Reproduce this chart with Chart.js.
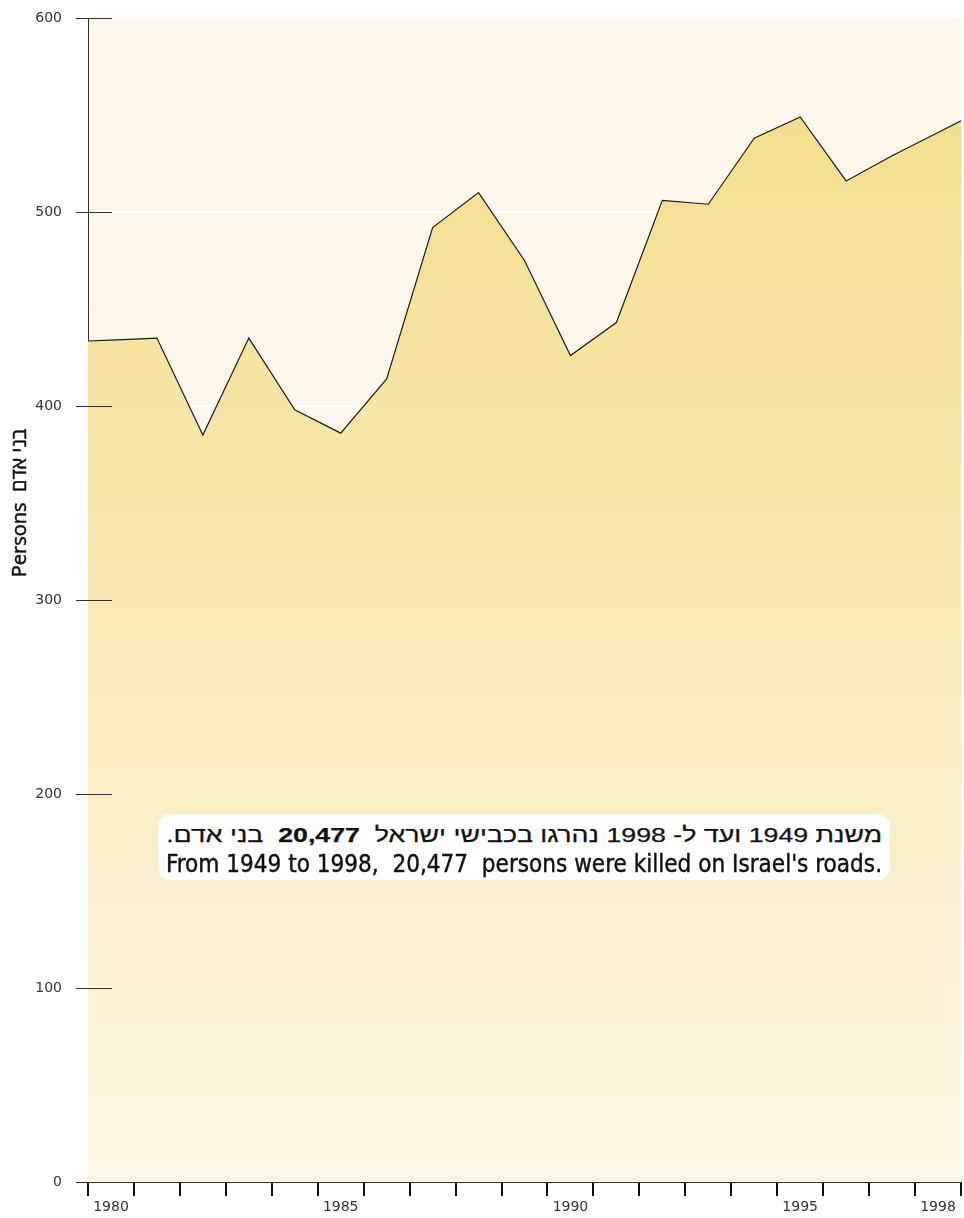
<!DOCTYPE html>
<html>
<head>
<meta charset="utf-8">
<script src="https://cdn.jsdelivr.net/npm/chart.js@4.4.1/dist/chart.umd.min.js"></script>
<style>
  html, body { margin: 0; padding: 0; background: #ffffff; }
  #wrap { position: relative; width: 964px; height: 1218px; overflow: hidden; }
  canvas { display: block; }
  #note {
    position: absolute; left: 158px; top: 814px; width: 732px; height: 66px;
    background: #ffffff; border-radius: 13px; box-sizing: border-box;
    padding: 0 8px; color: #111;
  }
  #note .line { position: absolute; left: 8px; right: 8px; white-space: nowrap; }
  #note .he {
    top: 8px; direction: rtl; text-align: right;
    font-family: "Liberation Sans", Arial, sans-serif; font-size: 21px; line-height: 26px;
    -webkit-text-stroke: 0.25px #111;
  }
  #note .he b { font-weight: bold; }
  #note .en {
    top: 36px; text-align: left;
    font-family: "Liberation Sans Narrow", "DejaVu Sans Condensed", "Roboto Condensed", "Liberation Sans", sans-serif;
    font-stretch: condensed; font-size: 24px; line-height: 28px;
    -webkit-text-stroke: 0.4px #111;
  }
  #note .fit { display: inline-block; transform-origin: left center; }
  #note .he .fit { transform-origin: right center; }
</style>
</head>
<body>
<div id="wrap">
  <canvas id="c" width="964" height="1218"></canvas>
  <div id="note">
    <div class="line he"><span class="fit" dir="rtl">משנת 1949 ועד ל- 1998 נהרגו בכבישי ישראל&nbsp; <b>20,477</b>&nbsp; בני אדם.</span></div>
    <div class="line en"><span class="fit">From 1949 to 1998,&nbsp; 20,477&nbsp; persons were killed on Israel's roads.</span></div>
  </div>
</div>
<script>
// ---- data ----
const years = ['1980','1981','1982','1983','1984','1985','1986','1987','1988','1989',
               '1990','1991','1992','1993','1994','1995','1996','1997','1998'];
const killed = [434, 435, 385, 435, 398, 386, 414, 492, 510, 475,
                426, 443, 506, 504, 538, 549, 516, 529, 541];
const labeledYears = ['1980','1985','1990','1995','1998'];
const yTickValues = [0, 100, 200, 300, 400, 500, 600];
const yTitle = 'Persons  בני אדם';

// area is drawn at category centres and carried on to the frame edges
const n = killed.length;
const areaPoints = [{ x: 0, y: killed[0] - (killed[1] - killed[0]) / 2 }]
  .concat(killed.map((v, i) => ({ x: i + 0.5, y: v })))
  .concat([{ x: n, y: killed[n - 1] + (killed[n - 1] - killed[n - 2]) / 2 }]);

const plotBg = {
  id: 'plotBg',
  beforeDraw(chart) {
    const { ctx, chartArea: a } = chart;
    ctx.save();
    ctx.fillStyle = '#fdf8eb';
    ctx.fillRect(a.left, a.top, a.right - a.left, a.bottom - a.top);
    ctx.restore();
  }
};

const yTickMarks = {
  id: 'yTickMarks',
  afterDatasetsDraw(chart) {
    const { ctx, chartArea: a } = chart;
    const ys = chart.scales.y;
    ctx.save();
    ctx.strokeStyle = '#333';
    ctx.lineWidth = 1;
    ys.ticks.forEach(t => {
      const py = Math.round(ys.getPixelForValue(t.value)) + 0.5;
      ctx.beginPath();
      ctx.moveTo(a.left - 12, py);
      ctx.lineTo(a.left + 24, py);
      ctx.stroke();
    });
    ctx.restore();
  }
};

const sideTitle = {
  id: 'sideTitle',
  afterDraw(chart) {
    const { ctx } = chart;
    const ys = chart.scales.y;
    ctx.save();
    ctx.translate(20, ys.getPixelForValue(350));
    ctx.rotate(-Math.PI / 2);
    ctx.textAlign = 'center';
    ctx.textBaseline = 'middle';
    ctx.fillStyle = '#111';
    ctx.strokeStyle = '#111';
    ctx.lineWidth = 0.5;
    ctx.font = '20px "Open Sans", "Noto Sans", sans-serif';
    ctx.fillText(yTitle, 0, 0);
    ctx.strokeText(yTitle, 0, 0);
    ctx.restore();
  }
};

const ctx = document.getElementById('c').getContext('2d');
new Chart(ctx, {
  type: 'line',
  data: {
    labels: years,
    datasets: [{
      data: areaPoints,
      xAxisID: 'xd',
      yAxisID: 'y',
      borderColor: '#1c1c1c',
      borderWidth: 1.2,
      pointRadius: 0,
      tension: 0,
      fill: 'origin',
      backgroundColor(c) {
        const a = c.chart.chartArea;
        if (!a) return '#f7e6a8';
        const g = c.chart.ctx.createLinearGradient(0, a.top, 0, a.bottom);
        g.addColorStop(0, '#f3db85');
        g.addColorStop(0.5, '#f8e9b4');
        g.addColorStop(1, '#fdf7e7');
        return g;
      }
    }]
  },
  options: {
    responsive: false,
    animation: false,
    devicePixelRatio: 1,
    layout: { padding: { top: 18, right: 3, left: 0, bottom: 0 } },
    plugins: { legend: { display: false }, tooltip: { enabled: false } },
    scales: {
      x: {
        type: 'category',
        position: 'bottom',
        offset: true,
        grid: {
          offset: true, drawOnChartArea: false, drawTicks: true,
          tickLength: 14, tickColor: '#111', tickWidth: 2, lineWidth: 2
        },
        border: { display: true, color: '#333', width: 1 },
        ticks: {
          autoSkip: false, maxRotation: 0, minRotation: 0, padding: 3,
          color: '#333',
          font: { family: '"DejaVu Sans", sans-serif', size: 14 },
          callback: (v, i) => labeledYears.includes(years[i]) ? years[i] : ''
        },
        afterFit(s) { s.height = 36; s.paddingLeft = 0; s.paddingRight = 0; }
      },
      xd: {
        type: 'linear', display: false, min: 0, max: years.length
      },
      y: {
        type: 'linear', min: 0, max: 600,
        afterBuildTicks(s) { s.ticks = yTickValues.map(v => ({ value: v })); },
        grid: { color: '#ffffff', lineWidth: 2, drawTicks: false },
        border: { display: true, color: '#333', width: 1 },
        ticks: {
          padding: 26, color: '#333',
          font: { family: '"DejaVu Sans", sans-serif', size: 14 }
        },
        afterFit(s) { s.width = 88; s.paddingTop = 0; s.paddingBottom = 0; }
      }
    }
  },
  plugins: [plotBg, yTickMarks, sideTitle]
});

// fit both note lines to the width they take in the original
function fitLines() {
  const target = 716;
  document.querySelectorAll('#note .fit').forEach(el => {
    el.style.transform = 'none';
    const w = el.getBoundingClientRect().width;
    if (w > 0) el.style.transform = 'scaleX(' + (target / w) + ')';
  });
}
fitLines();
if (document.fonts && document.fonts.ready) document.fonts.ready.then(fitLines);
</script>
</body>
</html>
